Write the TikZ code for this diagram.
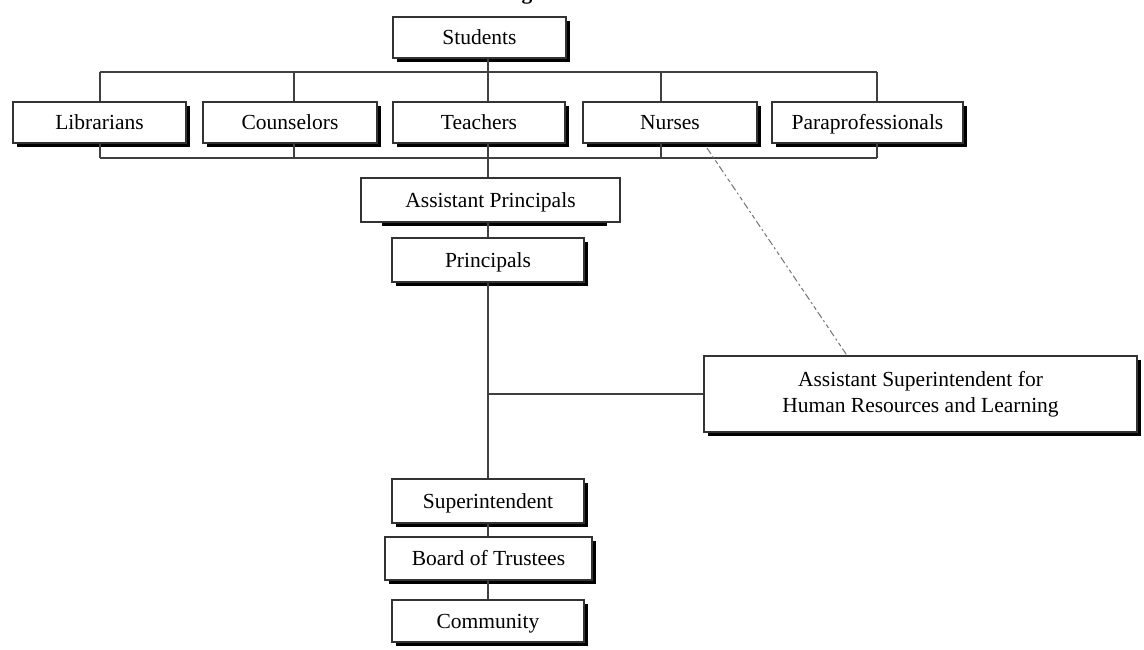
\documentclass[tikz,border=0pt]{standalone}
\usepackage{fontspec}
\setmainfont{Liberation Serif}
\usetikzlibrary{shadows}

\tikzset{
  plainbox/.style={draw=black!80, fill=white, line width=1.2pt, inner sep=0pt,
    align=center, font=\fontsize{21.5}{26}\selectfont},
  box/.style={plainbox,
    drop shadow={shadow xshift=4pt, shadow yshift=-4pt, opacity=1, fill=black}},
  oneline/.style={text height=18pt, text depth=4pt},
  conn/.style={draw=black!75, line width=1.3pt},
  dotted link/.style={draw=black!55, line width=1pt,
    dash pattern=on 7pt off 3pt on 2pt off 3pt on 4pt off 3pt}
}

\begin{document}
\begin{tikzpicture}[x=1pt, y=-1pt]
  \useasboundingbox (0,0) rectangle (1144,649);
  \fill[white] (0,0) rectangle (1144,649);

  % heading, almost entirely above the page edge
  \node[anchor=base, inner sep=0pt, font=\fontsize{21.5}{26}\selectfont\bfseries]
    (heading) at (527,-0.5) {g};

  % bus lines and spine
  \coordinate (sp) at (488,0);
  \coordinate (busTL) at (100,72);
  \coordinate (busTR) at (877,72);
  \coordinate (busBL) at (100,158);
  \coordinate (busBR) at (877,158);
  \coordinate (dropC) at (294,0);
  \coordinate (dropN) at (661,0);

  % boxes
  \node[box, oneline, minimum width=173pt, minimum height=41pt] (students) at (479.5,37.5) {Students};

  \node[box, oneline, minimum width=173pt, minimum height=41pt] (lib)  at (99.5,122.5)  {Librarians};
  \node[box, oneline, minimum width=174pt, minimum height=41pt] (cou)  at (290,122.5)   {Counselors};
  \node[box, oneline, minimum width=172pt, minimum height=41pt] (tea)  at (479,122.5)   {Teachers};
  \node[box, oneline, minimum width=174pt, minimum height=41pt] (nur)  at (670,122.5)   {Nurses};
  \node[box, oneline, minimum width=191pt, minimum height=41pt] (para) at (867.5,122.5) {Paraprofessionals};

  % assistant principals: shadow along the bottom only
  \fill[black] (382,222) rectangle (607,226);
  \node[plainbox, oneline, minimum width=259pt, minimum height=44pt] (ap) at (490.5,200) {Assistant Principals};

  \node[box, oneline, minimum width=192pt, minimum height=44pt] (pr)  at (488,260) {Principals};
  \node[box, minimum width=433pt, minimum height=76pt] (asup) at (920.5,394)
    {Assistant Superintendent for\\Human Resources and Learning};
  \node[box, oneline, minimum width=192pt, minimum height=44pt] (sup)   at (488,501)   {Superintendent};
  \node[box, oneline, minimum width=207pt, minimum height=43pt] (board) at (488.5,558.5) {Board of Trustees};
  \node[box, oneline, minimum width=192pt, minimum height=42pt] (comm)  at (488,621)   {Community};

  % connectors
  \draw[conn] (busTL) -- (busTR);
  \draw[conn] (busBL) -- (busBR);
  \draw[conn] (busTL) -- (lib.north -| busTL);
  \draw[conn] (lib.south -| busBL) -- (busBL);
  \draw[conn] (cou.north -| dropC) -- (busTL -| dropC);
  \draw[conn] (cou.south -| dropC) -- (busBL -| dropC);
  \draw[conn] (nur.north -| dropN) -- (busTL -| dropN);
  \draw[conn] (nur.south -| dropN) -- (busBL -| dropN);
  \draw[conn] (busTR) -- (para.north -| busTR);
  \draw[conn] (para.south -| busBR) -- (busBR);

  \draw[conn] (students.south -| sp) -- (tea.north -| sp);
  \draw[conn] (tea.south -| sp) -- (ap.north -| sp);
  \draw[conn] (ap.south -| sp) -- (pr.north -| sp);
  \draw[conn] (pr.south -| sp) -- (sup.north -| sp);
  \draw[conn] (sup.south -| sp) -- (board.north -| sp);
  \draw[conn] (board.south -| sp) -- (comm.north -| sp);
  \draw[conn] (asup.west) -- (asup.west -| sp);

  \coordinate (dashS) at (707,148);
  \coordinate (dashE) at (847,0);
  \draw[dotted link] (dashS) -- (asup.north -| dashE);
\end{tikzpicture}
\end{document}
